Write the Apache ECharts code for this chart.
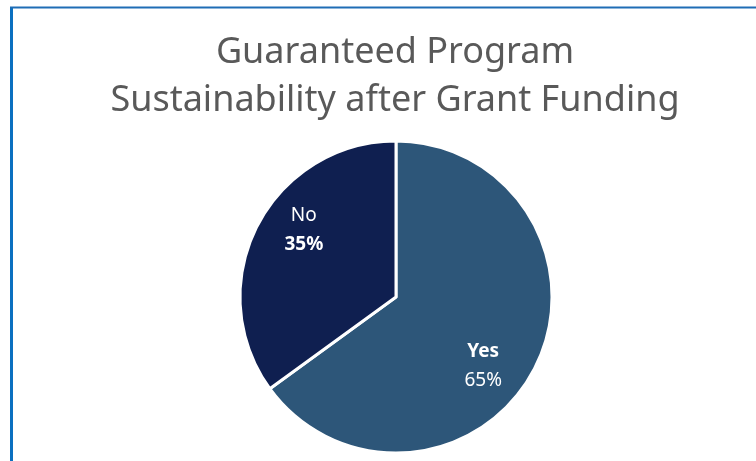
<!DOCTYPE html>
<html>
<head>
<meta charset="UTF-8">
<title>Guaranteed Program Sustainability</title>
<script type="text/javascript" src="https://cdn.jsdelivr.net/npm/echarts@6/dist/echarts.min.js"></script>
<style>
  body{margin:0;background:#fff}
</style>
</head>
<body>
<div id="main" style="width:756px;height:461px"></div>
<script type="text/javascript">
// data
var categories = ['Yes', 'No'];
var values = [65, 35];
var colors = ['#2D5679', '#0F1F50'];
var labelOffsets = [[15, 32], [-20, -30]];

var myEcharts = echarts.init(document.getElementById('main'));

var option = {
    backgroundColor: '#ffffff',
    title: {
        text: 'Guaranteed Program\nSustainability after Grant Funding',
        left: 390,
        textAlign: 'center',
        top: 24,
        textStyle: {
            fontFamily: 'Noto Sans',
            fontWeight: 'normal',
            fontSize: 36,
            lineHeight: 48,
            color: '#595959'
        }
    },
    graphic: [
        {type: 'line', shape: {x1: 11.5, y1: 7, x2: 11.5, y2: 461}, style: {stroke: '#0A70C0', lineWidth: 3}},
        {type: 'line', shape: {x1: 10, y1: 7.5, x2: 756, y2: 7.5}, style: {stroke: '#1F6DB5', lineWidth: 2}}
    ],
    series: [
        {
            type: 'pie',
            center: [396, 297],
            radius: 156,
            startAngle: 90,
            clockwise: true,
            itemStyle: {borderColor: '#ffffff', borderWidth: 3},
            label: {
                show: true,
                position: 'inside',
                color: '#ffffff',
                fontFamily: 'Noto Sans',
                fontSize: 19,
                lineHeight: 29
            },
            data: categories.map(function (name, i) {
                var bold = name === 'Yes';
                return {
                    name: name,
                    value: values[i],
                    itemStyle: {color: colors[i]},
                    label: {
                        offset: labelOffsets[i],
                        formatter: bold ? '{b|{b}}\n{c}%' : '{b}\n{v|{c}%}',
                        rich: {
                            b: {fontWeight: 'bold', fontSize: 19, color: '#fff', fontFamily: 'Noto Sans', lineHeight: 29},
                            v: {fontWeight: 'bold', fontSize: 19, color: '#fff', fontFamily: 'Noto Sans', lineHeight: 29}
                        }
                    }
                };
            })
        }
    ]
};

myEcharts.setOption(option);
</script>
</body>
</html>
